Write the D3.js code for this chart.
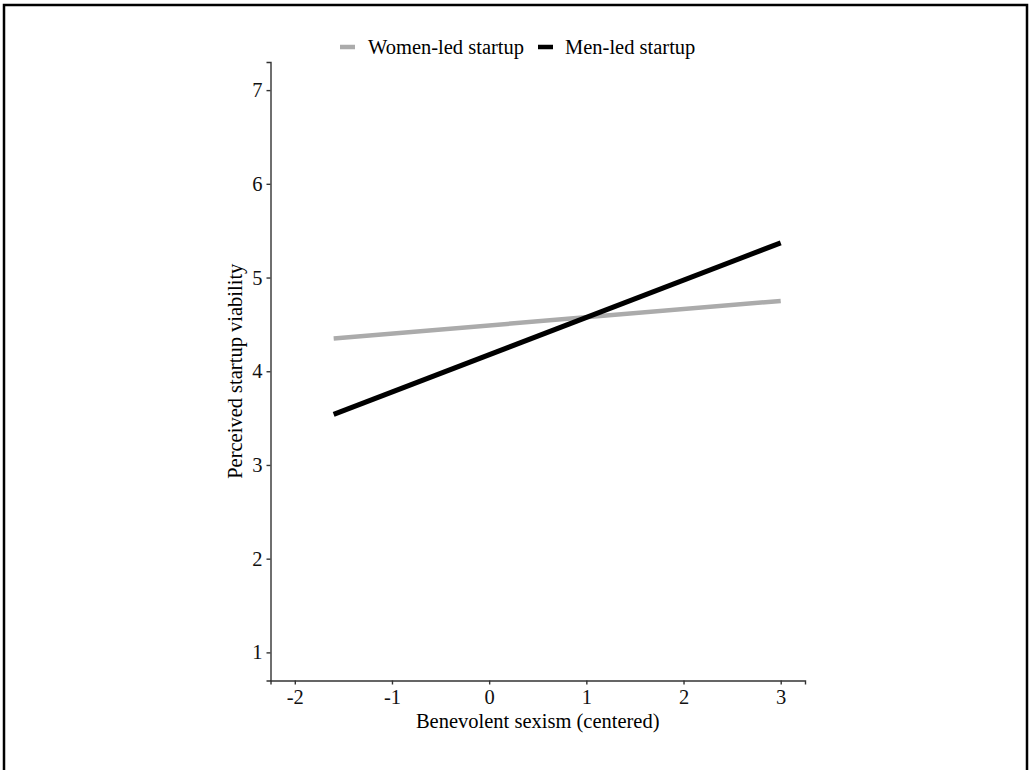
<!DOCTYPE html>
<html>
<head>
<meta charset="utf-8">
<script src="https://cdn.jsdelivr.net/npm/d3@7"></script>
<style>
	body { margin: 0; background: #fff; }
	svg { display: block; }
</style>
</head>
<body>
<div id="chart"></div>
<script>
// simple slopes, endpoints
var groups = ['Women-led startup', 'Men-led startup'];
var colors = ['#ababab', '#000000'];
var xValues = [-1.6, 3];
var womenValues = [4.35, 4.75];
var menValues = [3.54, 5.37];
var xTicks = [-2, -1, 0, 1, 2, 3];
var yTicks = [1, 2, 3, 4, 5, 6, 7];

var width = 1029;
var height = 770;
var font = '"Liberation Serif", "Times New Roman", serif';

var svg = d3.select('#chart')
	.append('svg')
	.attr('width', width)
	.attr('height', height);

// frame round the picture (bottom edge is cut off)
svg.append('path')
	.attr('d', 'M4,770 V5 H1027 V770')
	.attr('fill', 'none')
	.attr('stroke', '#000')
	.attr('stroke-width', 2.5);

var x = d3.scaleLinear().domain([-2.25, 3.25]).range([270.5, 805]);
var y = d3.scaleLinear().domain([0.7, 7.3]).range([680.5, 62]);

var xAxis = svg.append('g')
	.attr('transform', 'translate(0,' + y.range()[0] + ')')
	.call(d3.axisBottom(x).tickValues(xTicks).tickSize(4).tickPadding(5).tickFormat(d3.format('d')));

var yAxis = svg.append('g')
	.attr('transform', 'translate(' + x.range()[0] + ',0)')
	.call(d3.axisLeft(y).tickValues(yTicks).tickSize(4).tickPadding(4).tickFormat(d3.format('d')));

[xAxis, yAxis].forEach(function (g) {
	g.select('.domain').attr('stroke', '#333').attr('stroke-width', 1.4);
	g.selectAll('.tick line').attr('stroke', '#333').attr('stroke-width', 1.4);
	g.selectAll('.tick text')
		.attr('fill', '#111')
		.style('font-family', font)
		.style('font-size', '20.5px');
});
// ggplot style hyphen minus
xAxis.selectAll('.tick text').text(function (d) { return d < 0 ? '-' + Math.abs(d) : d; });

svg.append('text')
	.attr('x', (x.range()[0] + x.range()[1]) / 2)
	.attr('y', 728)
	.attr('text-anchor', 'middle')
	.style('font-family', font)
	.style('font-size', '20.5px')
	.text('Benevolent sexism (centered)');

svg.append('text')
	.attr('transform', 'translate(242,' + ((y.range()[0] + y.range()[1]) / 2) + ') rotate(-90)')
	.attr('text-anchor', 'middle')
	.style('font-family', font)
	.style('font-size', '20.5px')
	.text('Perceived startup viability');

var line = d3.line()
	.x(function (d, i) { return x(xValues[i]); })
	.y(function (d) { return y(d); });

var series = [womenValues, menValues];
series.forEach(function (values, i) {
	svg.append('path')
		.datum(values)
		.attr('d', line)
		.attr('fill', 'none')
		.attr('stroke', colors[i])
		.attr('stroke-width', i === 1 ? 5 : 4.5);
});

// legend on top
var legendItems = [{ key: 340, text: 368 }, { key: 538, text: 565 }];
legendItems.forEach(function (item, i) {
	svg.append('line')
		.attr('x1', item.key)
		.attr('x2', item.key + 15)
		.attr('y1', 47)
		.attr('y2', 47)
		.attr('stroke', colors[i])
		.attr('stroke-width', 4.5);
	svg.append('text')
		.attr('x', item.text)
		.attr('y', 54)
		.style('font-family', font)
		.style('font-size', '20.5px')
		.text(groups[i]);
});
</script>
</body>
</html>
